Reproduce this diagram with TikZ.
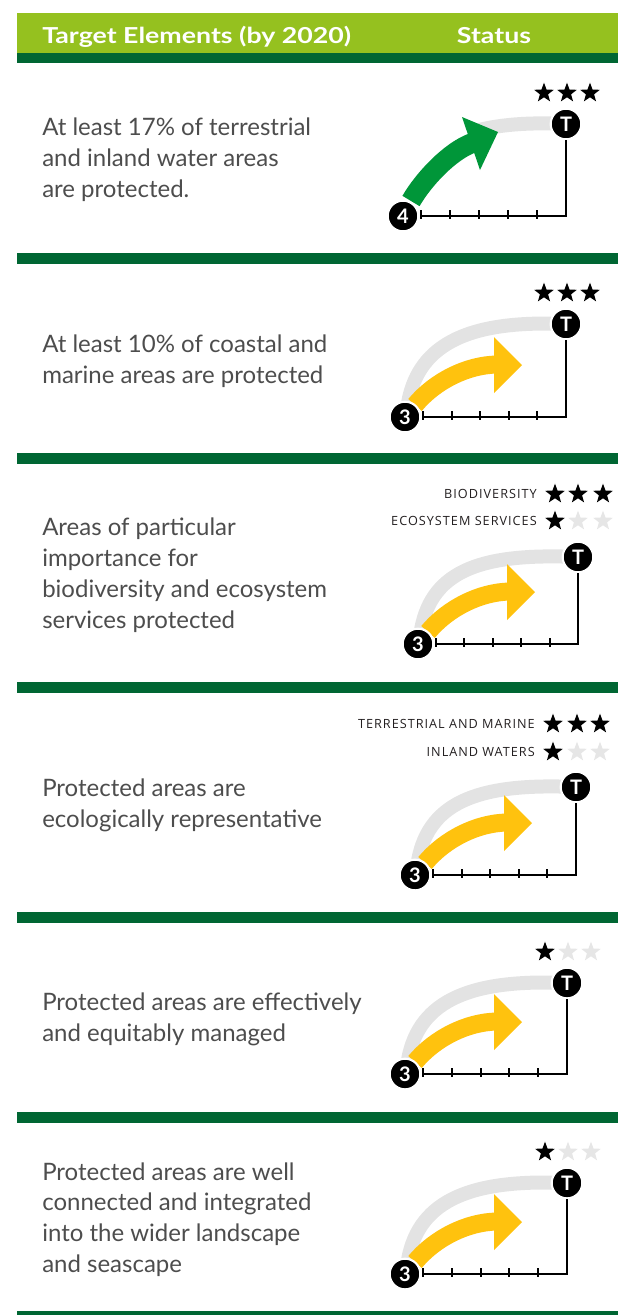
\documentclass[tikz,border=0pt]{standalone}
\usepackage{fontspec}
\setmainfont{Lato}
\newfontfamily\labelfont{Open Sans}[LetterSpace=8]
\newfontfamily\hdrfont{Lato}[FakeStretch=1.215]
\usetikzlibrary{calc,shapes.geometric}

\definecolor{hdrgreen}{HTML}{95C11F}
\definecolor{bargreen}{HTML}{006633}
\definecolor{arrowgreen}{HTML}{009639}
\definecolor{arrowyellow}{HTML}{FFC20E}
\definecolor{arcgrey}{HTML}{E3E3E3}
\definecolor{stargrey}{HTML}{E6E6E6}
\definecolor{bodytext}{HTML}{4D4D4D}
\definecolor{labeltext}{HTML}{231F20}

\newcommand\gaugeaxis[1]{%
  \coordinate (a#1) at ($(s#1)+(18,0)$);
  \coordinate (b#1) at (s#1 -| t#1);
  \draw[axisline] (a#1) -- (b#1) -- (T#1.south);
  \foreach \k in {0,...,4} \draw[tickmark] ($(a#1)!\k/5!(b#1)$) ++(0,-6) -- ++(0,8.5);
}
\newcommand\yellowgauge[1]{%
  \draw[greyarc] ($(s#1)+(3,-14)$) .. controls ($(s#1)+(14,-76)$) and ($(t#1)+(-92,-4)$) .. (t#1);
  \draw[ybody] ($(s#1)+(10,-12)$) .. controls ($(s#1)+(30,-36)$) and ($(s#1)+(62,-52)$) .. ($(s#1)+(92,-52.5)$);
  \fill[arrowyellow] ($(s#1)+(89,-80)$) -- ($(s#1)+(117,-52)$) -- ($(s#1)+(89,-24)$) -- cycle;
}

\begin{document}
\begin{tikzpicture}[x=0.75pt,y=-0.75pt,
  bodyline/.style={anchor=base west, inner sep=0pt, text=bodytext, font=\fontsize{18}{23}\selectfont},
  hdrtext/.style={anchor=base, inner sep=0pt, text=white, font=\hdrfont\bfseries\fontsize{16.5}{20}\selectfont},
  lbl/.style={anchor=base east, inner sep=0pt, text=labeltext, font=\labelfont\fontsize{9.5}{11}\selectfont},
  numcirc/.style={circle, fill=black, draw=white, line width=1.6pt, minimum size=23pt, inner sep=0pt, text=white, font=\bfseries\fontsize{15}{15}\selectfont},
  starmark/.style={star, star points=5, star point ratio=2.4, inner sep=0pt, minimum size=15.5pt, fill=black},
  offstar/.style={starmark, fill=stargrey},
  greyarc/.style={draw=arcgrey, line width=10.5pt},
  ybody/.style={draw=arrowyellow, line width=13.5pt},
  gbody/.style={draw=arrowgreen, line width=15pt},
  axisline/.style={draw=black, line width=1.6pt},
  tickmark/.style={draw=black, line width=1.5pt},
  bar/.style={fill=bargreen},
]
\useasboundingbox (0,0) rectangle (618,1315);

% header
\fill[hdrgreen] (17,13) rectangle (618,53);
\fill[bar] (17,53) rectangle (618,63);
\node[hdrtext, anchor=base west] (h1) at (42,43) {Target Elements (by 2020)};
\node[hdrtext] (h2) at (494,43) {Status};

% separators
\fill[bar] (17,253) rectangle (618,264);
\fill[bar] (17,453) rectangle (618,464);
\fill[bar] (17,682) rectangle (618,693);
\fill[bar] (17,912) rectangle (618,923);
\fill[bar] (17,1112) rectangle (618,1123);
\fill[bar] (17,1311) rectangle (618,1315);

% texts
\node[bodyline] (r1a) at (42,135) {At least 17\% of terrestrial};
\node[bodyline] (r1b) at (42,166) {and inland water areas};
\node[bodyline] (r1c) at (42,197) {are protected.};
\node[bodyline] (r2a) at (42,352) {At least 10\% of coastal and};
\node[bodyline] (r2b) at (42,383) {marine areas are protected};
\node[bodyline] (r3a) at (42,535) {Areas of particular};
\node[bodyline] (r3b) at (42,566) {importance for};
\node[bodyline] (r3c) at (42,597) {biodiversity and ecosystem};
\node[bodyline] (r3d) at (42,628) {services protected};
\node[bodyline] (r4a) at (42,796) {Protected areas are};
\node[bodyline] (r4b) at (42,827) {ecologically representative};
\node[bodyline] (r5a) at (42,1010) {Protected areas are effectively};
\node[bodyline] (r5b) at (42,1041) {and equitably managed};
\node[bodyline] (r6a) at (42,1180) {Protected areas are well};
\node[bodyline] (r6b) at (42,1210) {connected and integrated};
\node[bodyline] (r6c) at (42,1241) {into the wider landscape};
\node[bodyline] (r6d) at (42,1272) {and seascape};

% gauge anchors
\coordinate (s1) at (403,216);  \coordinate (t1) at (566,124);
\coordinate (s2) at (405,417);  \coordinate (t2) at (566,324);
\coordinate (s3) at (418,644);  \coordinate (t3) at (578,557);
\coordinate (s4) at (415,875);  \coordinate (t4) at (576,787);
\coordinate (s5) at (405,1074); \coordinate (t5) at (567,983);
\coordinate (s6) at (405,1274); \coordinate (t6) at (567,1183);

% row 1: green arrow
\draw[greyarc] ($(s1)+(72,-85)$) .. controls ($(s1)+(95,-91)$) and ($(t1)+(-40,-2)$) .. (t1);
\draw[gbody] ($(s1)+(8,-15)$) .. controls ($(s1)+(20.5,-36.7)$) and ($(s1)+(47,-65)$) .. ($(s1)+(70,-73.3)$);
\fill[arrowgreen] ($(s1)+(59,-99)$) -- ($(s1)+(95,-84)$) -- ($(s1)+(77,-46)$) -- cycle;

% rows 2-6: yellow arrows
\yellowgauge{2}
\yellowgauge{3}
\yellowgauge{4}
\yellowgauge{5}
\yellowgauge{6}

% circles
\node[numcirc] (S1) at (s1) {4}; \node[numcirc] (T1) at (t1) {T};
\node[numcirc] (S2) at (s2) {3}; \node[numcirc] (T2) at (t2) {T};
\node[numcirc] (S3) at (s3) {3}; \node[numcirc] (T3) at (t3) {T};
\node[numcirc] (S4) at (s4) {3}; \node[numcirc] (T4) at (t4) {T};
\node[numcirc] (S5) at (s5) {3}; \node[numcirc] (T5) at (t5) {T};
\node[numcirc] (S6) at (s6) {3}; \node[numcirc] (T6) at (t6) {T};

% axes
\gaugeaxis{1}
\gaugeaxis{2}
\gaugeaxis{3}
\gaugeaxis{4}
\gaugeaxis{5}
\gaugeaxis{6}

% stars rows 1,2,5,6
\node[starmark] (st1a) at ($(t1)+(-22,-31)$) {};
\node[starmark] (st1b) at ($(t1)+(1,-31)$) {};
\node[starmark] (st1c) at ($(t1)+(24,-31)$) {};
\node[starmark] (st2a) at ($(t2)+(-22,-31)$) {};
\node[starmark] (st2b) at ($(t2)+(1,-31)$) {};
\node[starmark] (st2c) at ($(t2)+(24,-31)$) {};
\node[starmark] (st5a) at ($(t5)+(-22,-31)$) {};
\node[offstar] (st5b) at ($(t5)+(1,-31)$) {};
\node[offstar] (st5c) at ($(t5)+(24,-31)$) {};
\node[starmark] (st6a) at ($(t6)+(-22,-31)$) {};
\node[offstar] (st6b) at ($(t6)+(1,-31)$) {};
\node[offstar] (st6c) at ($(t6)+(24,-31)$) {};

% row 3 labels
\node[lbl] (l3a) at (537,498.5) {BIODIVERSITY};
\node[starmark] (st3a) at (555,494) {};
\node[starmark] (st3b) at (578,494) {};
\node[starmark] (st3c) at (603,494) {};
\node[lbl] (l3b) at (537,525.5) {ECOSYSTEM SERVICES};
\node[starmark] (st3d) at (555,521) {};
\node[offstar] (st3e) at (578,521) {};
\node[offstar] (st3f) at (603,521) {};

% row 4 labels
\node[lbl] (l4a) at (535,728.5) {TERRESTRIAL AND MARINE};
\node[starmark] (st4a) at (553,724) {};
\node[starmark] (st4b) at (577,724) {};
\node[starmark] (st4c) at (600,724) {};
\node[lbl] (l4b) at (535,756.5) {INLAND WATERS};
\node[starmark] (st4d) at (553,752) {};
\node[offstar] (st4e) at (577,752) {};
\node[offstar] (st4f) at (600,752) {};
\end{tikzpicture}
\end{document}
